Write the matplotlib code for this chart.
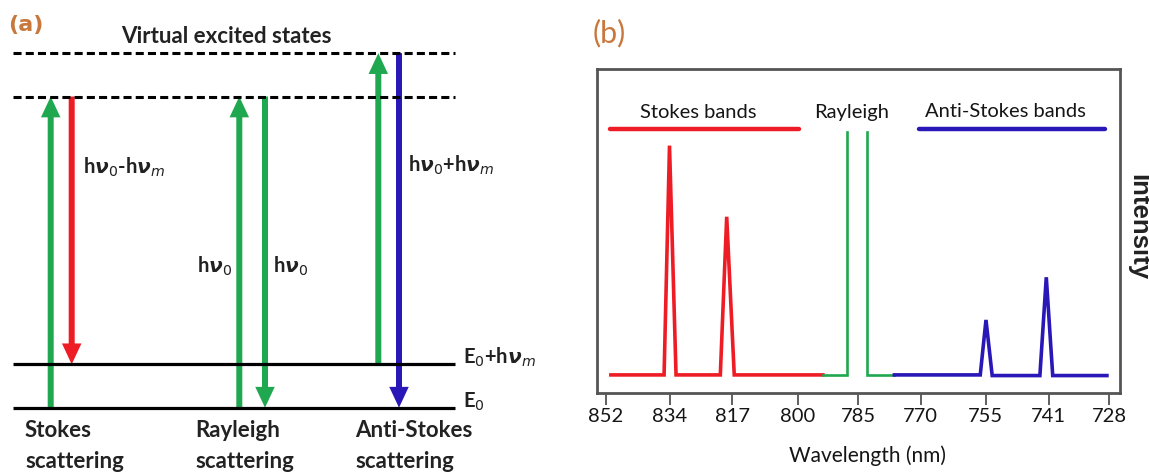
import numpy as np
import matplotlib
matplotlib.use('Agg')
import matplotlib.pyplot as plt

plt.rcParams['lines.scale_dashes'] = False
plt.rcParams['mathtext.fontset'] = 'dejavusans'

# ---------------- Panel (a): energy levels (units of h*nu_m) ----------------
E0 = 0.0
h_nu_m = 1.0
h_nu_0 = 7.17
solid_levels = [E0, E0 + h_nu_m]
virtual_levels = [E0 + h_nu_0, E0 + h_nu_0 + h_nu_m]

# transitions: (start energy, end energy, colour key)
stokes_transitions = [(E0, E0 + h_nu_0, 'g'), (E0 + h_nu_0, E0 + h_nu_m, 'r')]
rayleigh_transitions = [(E0, E0 + h_nu_0, 'g'), (E0 + h_nu_0, E0, 'g')]
anti_transitions = [(E0 + h_nu_m, E0 + h_nu_0 + h_nu_m, 'g'), (E0 + h_nu_0 + h_nu_m, E0, 'b')]

# ---------------- Panel (b): spectrum ----------------
tick_wl = [852, 834, 817, 800, 785, 770, 755, 741, 728]
stokes_wl = [850.5, 835.5, 834.0, 832.2, 820.2, 818.5, 816.5, 793.7]
stokes_int = [0.055, 0.055, 0.764, 0.055, 0.055, 0.544, 0.055, 0.055]
rayleigh_wl = [793.7, 787.6, 787.6, np.nan, 782.7, 782.7, 776.2]
rayleigh_int = [0.055, 0.055, 0.805, np.nan, 0.805, 0.055, 0.055]
anti_wl = [776.2, 756.2, 754.9, 753.5, 742.9, 741.5, 740.1, 728.5]
anti_int = [0.055, 0.055, 0.225, 0.053, 0.053, 0.357, 0.053, 0.053]
stokes_band_wl = [850.9, 799.8]
anti_band_wl = [770.3, 728.8]
band_level = 0.815

COL = {'g': '#1fa84f', 'r': '#ee1c25', 'b': '#2a17b8'}
LABEL_COL = '#c8783c'
FA = ['Lato', 'DejaVu Sans']
TXT = '#151515'

fig = plt.figure(figsize=(11.49, 4.76), dpi=100)

# ================= Panel (a) =================
axa = fig.add_axes([0, 0, 0.5, 1])
axa.set_xlim(0, 574.5)
axa.set_ylim(-1.574, 9.394)
axa.axis('off')

x0, x1 = 13.3, 455
for lv in virtual_levels:
    axa.plot([x0, x1], [lv, lv], color='black', lw=2.2, ls=(0, (5.8, 3.0)),
             dash_capstyle='butt', zorder=5)
for lv in solid_levels:
    axa.plot([x0, x1], [lv, lv], color='black', lw=2.3, zorder=5,
             solid_capstyle='butt')

arrow_x = [50.7, 71.7, 239.3, 265.0, 378.3, 399.0]
all_tr = stokes_transitions + rayleigh_transitions + anti_transitions
for x, (ys, ye, c) in zip(arrow_x, all_tr):
    axa.arrow(x, ys, 0, ye - ys, width=6.0, head_width=19.5, head_length=0.48,
              length_includes_head=True, lw=0, color=COL[c], zorder=3)

ta = dict(fontfamily=FA, fontsize=16, fontweight='bold', color='#222222')
th = dict(fontfamily=FA, fontsize=14.5, fontweight='bold', color='#222222')
axa.text(226.7, 8.41, 'Virtual excited states', ha='center', va='baseline', **ta)
axa.text(82.7, 5.40, r'h$\mathbfit{\nu}_{0}$-h$\mathbfit{\nu}_{m}$', ha='left', va='baseline', **th)
axa.text(408.3, 5.44, r'h$\mathbfit{\nu}_{0}$+h$\mathbfit{\nu}_{m}$', ha='left', va='baseline', **th)
axa.text(197.3, 3.10, r'h$\mathbfit{\nu}_{0}$', ha='left', va='baseline', **th)
axa.text(273.3, 3.10, r'h$\mathbfit{\nu}_{0}$', ha='left', va='baseline', **th)
axa.text(462.7, 1.02, r'E$_{0}$+h$\mathbfit{\nu}_{m}$', ha='left', va='baseline', **th)
axa.text(462.7, -0.01, r'E$_{0}$', ha='left', va='baseline', **th)
for x, (l1, l2) in zip([25, 195, 355], [('Stokes', 'scattering'), ('Rayleigh', 'scattering'),
                                       ('Anti-Stokes', 'scattering')]):
    axa.text(x, -0.668, l1, ha='left', va='baseline', **ta)
    axa.text(x, -1.396, l2, ha='left', va='baseline', **ta)

fig.text(8.3 / 1149, 1 - 25 / 476, '(a)', ha='left', va='center', fontsize=16,
         fontweight='bold', color=LABEL_COL, fontfamily='DejaVu Sans')

# ================= Panel (b) =================
axb = fig.add_axes([596.7 / 1149, (476 - 392.7) / 476, 523.3 / 1149, 323.4 / 476])
to_wn = lambda w: 1e7 / np.asarray(w, dtype=float)
axb.plot(to_wn(stokes_wl), stokes_int, color=COL['r'], lw=2.6, solid_joinstyle='miter')
axb.plot(to_wn(rayleigh_wl), rayleigh_int, color=COL['g'], lw=1.9, solid_joinstyle='miter')
axb.plot(to_wn(anti_wl), anti_int, color=COL['b'], lw=2.6, solid_joinstyle='miter')
axb.plot(to_wn(stokes_band_wl), [band_level] * 2, color=COL['r'], lw=3.2, solid_capstyle='round')
axb.plot(to_wn(anti_band_wl), [band_level] * 2, color=COL['b'], lw=3.2, solid_capstyle='round')

axb.set_xlim(11701.4, 13778.8)
axb.set_ylim(0, 1)
axb.set_yticks([])
axb.set_xticks(to_wn(tick_wl))
axb.set_xticklabels([str(t) for t in tick_wl], fontfamily=FA, fontsize=14.5, color=TXT)
axb.tick_params(axis='x', direction='out', length=8.6, width=1.2, color='#444444', pad=2.5)
for s in axb.spines.values():
    s.set_color('#555555')
    s.set_linewidth(2.0)

tb = dict(fontfamily=FA, fontsize=14.5, color=TXT)
axb.text(0.194, 0.8485, 'Stokes bands', transform=axb.transAxes, ha='center', va='baseline', **tb)
axb.text(0.487, 0.849, 'Rayleigh', transform=axb.transAxes, ha='center', va='baseline', **tb)
axb.text(0.782, 0.851, 'Anti-Stokes bands', transform=axb.transAxes, ha='center', va='baseline', **tb)

fig.text(867.5 / 1149, (476 - 461.7) / 476, 'Wavelength (nm)', ha='center', va='baseline',
         fontfamily=FA, fontsize=15, color=TXT)
fig.text(1138 / 1149, (476 - 227.5) / 476, 'Intensity', rotation=270, ha='center', va='center',
         fontfamily=['Liberation Sans', 'DejaVu Sans'], fontsize=18.5, fontweight='bold', color='#222222')
fig.text(593 / 1149, 1 - 33.5 / 476, '(b)', ha='left', va='center', fontsize=22,
         fontfamily=FA, color=LABEL_COL)

fig.savefig('out.png', dpi=100)
